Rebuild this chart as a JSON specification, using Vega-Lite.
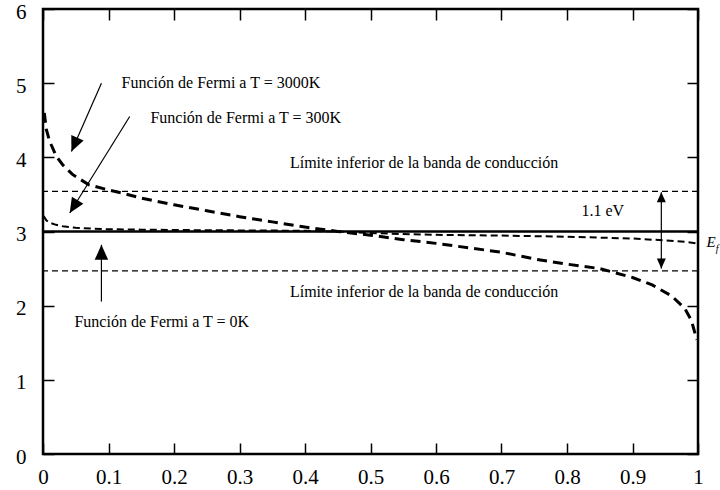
{
  "$schema": "https://vega.github.io/schema/vega-lite/v6.json",
  "width": 655,
  "height": 445,
  "autosize": {"type": "none"},
  "padding": {"left": 43, "top": 9, "right": 22, "bottom": 36},
  "background": "white",
  "config": {
    "view": {"stroke": "black", "strokeWidth": 2.5},
    "font": "'Liberation Serif', 'Times New Roman', 'DejaVu Serif', serif",
    "axis": {
      "domain": false,
      "grid": false,
      "title": null,
      "offset": -11,
      "tickSize": 11,
      "tickWidth": 1.5,
      "tickColor": "black",
      "labelFont": "'Liberation Serif', 'Times New Roman', 'DejaVu Serif', serif",
      "labelFontSize": 21,
      "labelColor": "black",
      "labelFlush": false,
      "labelOverlap": false,
      "labelBound": false
    }
  },
  "datasets": {
    "t0": [{"x": 0, "y": 3}, {"x": 1, "y": 3}],
    "t300": [
      {"x": 0.001, "y": 3.21}, {"x": 0.005, "y": 3.15}, {"x": 0.01, "y": 3.12},
      {"x": 0.02, "y": 3.09}, {"x": 0.03, "y": 3.07}, {"x": 0.05, "y": 3.05},
      {"x": 0.075, "y": 3.04}, {"x": 0.1, "y": 3.03}, {"x": 0.15, "y": 3.025},
      {"x": 0.2, "y": 3.02}, {"x": 0.3, "y": 3.015}, {"x": 0.4, "y": 3.01},
      {"x": 0.45, "y": 3.0}, {"x": 0.5, "y": 2.98}, {"x": 0.55, "y": 2.965},
      {"x": 0.6, "y": 2.955}, {"x": 0.7, "y": 2.945}, {"x": 0.8, "y": 2.93},
      {"x": 0.9, "y": 2.905}, {"x": 0.95, "y": 2.88}, {"x": 0.98, "y": 2.86},
      {"x": 0.998, "y": 2.84}
    ],
    "t3000": [
      {"x": 0.002, "y": 4.6}, {"x": 0.005, "y": 4.38}, {"x": 0.01, "y": 4.22},
      {"x": 0.02, "y": 4.02}, {"x": 0.03, "y": 3.9}, {"x": 0.045, "y": 3.77},
      {"x": 0.07, "y": 3.63}, {"x": 0.1, "y": 3.56}, {"x": 0.12, "y": 3.52},
      {"x": 0.15, "y": 3.45}, {"x": 0.2, "y": 3.36}, {"x": 0.25, "y": 3.28},
      {"x": 0.3, "y": 3.2}, {"x": 0.35, "y": 3.13}, {"x": 0.4, "y": 3.06},
      {"x": 0.45, "y": 3.0}, {"x": 0.5, "y": 2.95}, {"x": 0.55, "y": 2.89},
      {"x": 0.6, "y": 2.84}, {"x": 0.65, "y": 2.78}, {"x": 0.7, "y": 2.72},
      {"x": 0.75, "y": 2.63}, {"x": 0.8, "y": 2.56}, {"x": 0.85, "y": 2.5},
      {"x": 0.9, "y": 2.38}, {"x": 0.93, "y": 2.28}, {"x": 0.96, "y": 2.13},
      {"x": 0.98, "y": 1.96}, {"x": 0.99, "y": 1.8}, {"x": 0.995, "y": 1.64},
      {"x": 0.998, "y": 1.54}
    ],
    "bands": [{"y": 3.54}, {"y": 2.47}],
    "labels": [
      {"text": "Función de Fermi a T = 3000K", "x": 0.12, "y": 5.0},
      {"text": "Función de Fermi a T = 300K", "x": 0.164, "y": 4.53},
      {"text": "Límite inferior de la banda de conducción", "x": 0.377, "y": 3.93},
      {"text": "1.1 eV", "x": 0.822, "y": 3.27},
      {"text": "Límite inferior de la banda de conducción", "x": 0.377, "y": 2.19},
      {"text": "Función de Fermi a T = 0K", "x": 0.048, "y": 1.78}
    ],
    "ef": [{"text": "E", "x": 1.013, "y": 2.86}],
    "efsub": [{"text": "f", "x": 1.027, "y": 2.77}],
    "arrows": [
      {"name": "a3000", "x": 0.0892, "y": 5.0, "x2": 0.0434, "y2": 4.08},
      {"name": "a300", "x": 0.1324, "y": 4.55, "x2": 0.0408, "y2": 3.25},
      {"name": "a0", "x": 0.0892, "y": 2.055, "x2": 0.0892, "y2": 2.82},
      {"name": "gap", "x": 0.944, "y": 3.53, "x2": 0.944, "y2": 2.5}
    ],
    "head3000": [{"x": 0.0434, "y": 4.08}],
    "head300": [{"x": 0.0408, "y": 3.25}],
    "head0": [{"x": 0.0892, "y": 2.82}],
    "headUp": [{"x": 0.944, "y": 3.53}],
    "headDown": [{"x": 0.944, "y": 2.5}]
  },
  "resolve": {"axis": {"x": "independent", "y": "independent"}},
  "layer": [
    {
      "data": {"name": "t0"},
      "mark": {"type": "line", "color": "black", "strokeWidth": 2.5},
      "encoding": {
        "x": {"field": "x", "type": "quantitative", "scale": {"domain": [0, 1], "nice": false, "zero": false},
              "axis": {"orient": "bottom", "values": [0, 0.1, 0.2, 0.3, 0.4, 0.5, 0.6, 0.7, 0.8, 0.9, 1], "format": "~g", "labelPadding": 12}},
        "y": {"field": "y", "type": "quantitative", "scale": {"domain": [0, 6], "nice": false, "zero": false},
              "axis": {"orient": "left", "values": [0, 1, 2, 3, 4, 5, 6], "format": "d", "labelPadding": 17, "labelOffset": 3}}
      }
    },
    {
      "data": {"name": "t3000"},
      "mark": {"type": "line", "color": "black", "strokeWidth": 3, "strokeDash": [10, 6]},
      "encoding": {
        "x": {"field": "x", "type": "quantitative",
              "axis": {"orient": "top", "values": [0, 0.1, 0.2, 0.3, 0.4, 0.5, 0.6, 0.7, 0.8, 0.9, 1], "labels": false}},
        "y": {"field": "y", "type": "quantitative",
              "axis": {"orient": "right", "values": [0, 1, 2, 3, 4, 5, 6], "labels": false}}
      }
    },
    {
      "data": {"name": "t300"},
      "mark": {"type": "line", "color": "black", "strokeWidth": 2, "strokeDash": [7, 4]},
      "encoding": {
        "x": {"field": "x", "type": "quantitative", "axis": null},
        "y": {"field": "y", "type": "quantitative", "axis": null}
      }
    },
    {
      "data": {"name": "bands"},
      "mark": {"type": "rule", "color": "black", "strokeWidth": 1.2, "strokeDash": [6, 4]},
      "encoding": {
        "y": {"field": "y", "type": "quantitative", "axis": null}
      }
    },
    {
      "data": {"name": "arrows"},
      "mark": {"type": "rule", "color": "black", "strokeWidth": 1.2},
      "encoding": {
        "x": {"field": "x", "type": "quantitative", "axis": null},
        "y": {"field": "y", "type": "quantitative", "axis": null},
        "x2": {"field": "x2"},
        "y2": {"field": "y2"}
      }
    },
    {
      "data": {"name": "head3000"},
      "mark": {"type": "point", "shape": "M0,0L-0.9,2L0.9,2Z", "filled": true, "color": "black", "opacity": 1, "size": 225, "angle": 203.7},
      "encoding": {
        "x": {"field": "x", "type": "quantitative", "axis": null},
        "y": {"field": "y", "type": "quantitative", "axis": null}
      }
    },
    {
      "data": {"name": "head300"},
      "mark": {"type": "point", "shape": "M0,0L-0.9,2L0.9,2Z", "filled": true, "color": "black", "opacity": 1, "size": 225, "angle": 211.8},
      "encoding": {
        "x": {"field": "x", "type": "quantitative", "axis": null},
        "y": {"field": "y", "type": "quantitative", "axis": null}
      }
    },
    {
      "data": {"name": "head0"},
      "mark": {"type": "point", "shape": "M0,0L-0.9,2L0.9,2Z", "filled": true, "color": "black", "opacity": 1, "size": 225, "angle": 0},
      "encoding": {
        "x": {"field": "x", "type": "quantitative", "axis": null},
        "y": {"field": "y", "type": "quantitative", "axis": null}
      }
    },
    {
      "data": {"name": "headUp"},
      "mark": {"type": "point", "shape": "M0,0L-0.9,2L0.9,2Z", "filled": true, "color": "black", "opacity": 1, "size": 100, "angle": 0},
      "encoding": {
        "x": {"field": "x", "type": "quantitative", "axis": null},
        "y": {"field": "y", "type": "quantitative", "axis": null}
      }
    },
    {
      "data": {"name": "headDown"},
      "mark": {"type": "point", "shape": "M0,0L-0.9,2L0.9,2Z", "filled": true, "color": "black", "opacity": 1, "size": 100, "angle": 180},
      "encoding": {
        "x": {"field": "x", "type": "quantitative", "axis": null},
        "y": {"field": "y", "type": "quantitative", "axis": null}
      }
    },
    {
      "data": {"name": "labels"},
      "mark": {"type": "text", "align": "left", "baseline": "middle", "font": "'Liberation Serif', 'Times New Roman', 'DejaVu Serif', serif", "fontSize": 16, "color": "black"},
      "encoding": {
        "x": {"field": "x", "type": "quantitative", "axis": null},
        "y": {"field": "y", "type": "quantitative", "axis": null},
        "text": {"field": "text"}
      }
    },
    {
      "data": {"name": "ef"},
      "mark": {"type": "text", "align": "left", "baseline": "middle", "font": "'Liberation Serif', 'Times New Roman', 'DejaVu Serif', serif", "fontStyle": "italic", "fontSize": 15, "color": "black"},
      "encoding": {
        "x": {"field": "x", "type": "quantitative", "axis": null},
        "y": {"field": "y", "type": "quantitative", "axis": null},
        "text": {"field": "text"}
      }
    },
    {
      "data": {"name": "efsub"},
      "mark": {"type": "text", "align": "left", "baseline": "middle", "font": "'Liberation Serif', 'Times New Roman', 'DejaVu Serif', serif", "fontStyle": "italic", "fontSize": 10, "color": "black"},
      "encoding": {
        "x": {"field": "x", "type": "quantitative", "axis": null},
        "y": {"field": "y", "type": "quantitative", "axis": null},
        "text": {"field": "text"}
      }
    }
  ]
}
